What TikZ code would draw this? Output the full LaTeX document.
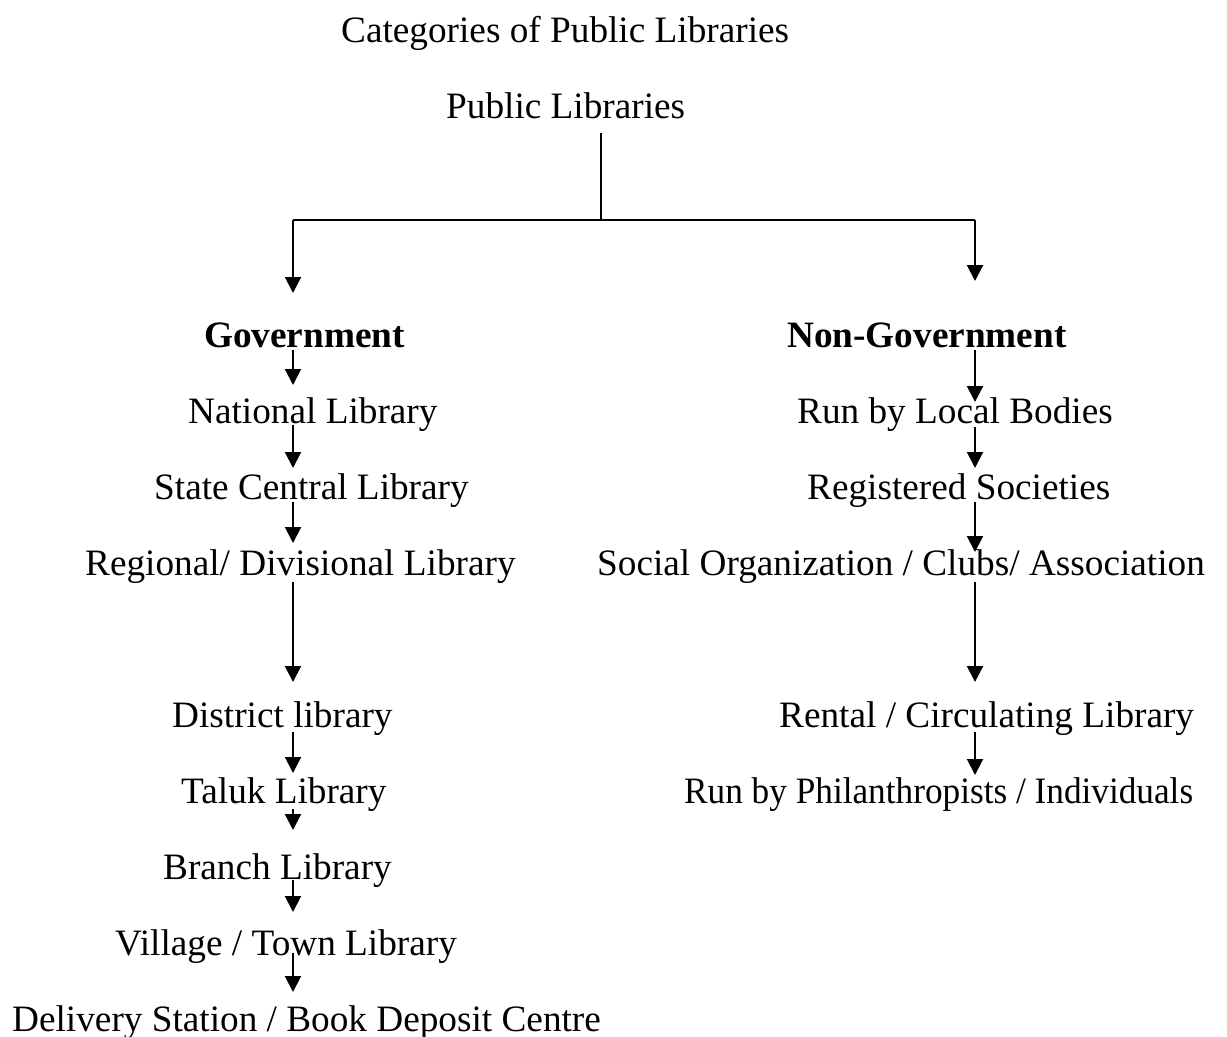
\documentclass[tikz,border=0pt]{standalone}
\usepackage{fontspec}
\setmainfont{Liberation Serif}
\usetikzlibrary{arrows.meta}
\begin{document}
\begin{tikzpicture}[x=1bp,y=-1bp,
  lbl/.style={anchor=base west,inner sep=0pt,font=\fontsize{37.25bp}{40bp}\selectfont},
  blbl/.style={lbl,font=\fontsize{37.25bp}{40bp}\selectfont\bfseries},
  arr/.style={line width=2bp,-{Triangle[width=16bp,length=16bp]}},
  ln/.style={line width=2bp}]
\useasboundingbox[fill=white] (0,0) rectangle (1227,1037);
\coordinate (L) at (293,0);
\coordinate (R) at (975,0);
\node[lbl] (title) at (341,42) {Categories of Public Libraries};
\node[lbl] (pub) at (446,118) {Public Libraries};
\node[blbl] (gov) at (204,347) {Government};
\node[lbl] (nat) at (188,423) {National Library};
\node[lbl] (state) at (154,499) {State Central Library};
\node[lbl] (reg) at (85,575) {Regional/ Divisional Library};
\node[lbl] (dist) at (172,727) {District library};
\node[lbl] (taluk) at (181,803) {Taluk Library};
\node[lbl] (branch) at (163,879) {Branch Library};
\node[lbl] (vill) at (115,955) {Village / Town Library};
\node[lbl] (deliv) at (12,1031) {Delivery Station / Book Deposit Centre};
\node[blbl] (ngov) at (787,347) {Non-Government};
\node[lbl] (local) at (797,423) {Run by Local Bodies};
\node[lbl] (soc) at (807,499) {Registered Societies};
\node[lbl] (club) at (597,575) {Social Organization / Clubs/ Association};
\node[lbl] (rent) at (779,727) {Rental / Circulating Library};
\node[lbl,xscale=0.946] (phil) at (684,803) {Run by Philanthropists / Individuals};
% top split
\coordinate (split) at (601,220);
\draw[ln] (pub.base -| split) ++(0,15) -- (split);
\draw[ln] (split) -- (split -| L);
\draw[ln] (split) -- (split -| R);
\draw[arr] (split -| L) -- ([yshift=54bp]gov.base -| L);
\draw[arr] (split -| R) -- ([yshift=66bp]ngov.base -| R);
% left chain
\draw[arr] ([yshift=-3bp]gov.base -| L) -- ([yshift=38bp]nat.base -| L);
\draw[arr] ([yshift=-2bp]nat.base -| L) -- ([yshift=31bp]state.base -| L);
\draw[arr] ([yshift=-3bp]state.base -| L) -- ([yshift=32bp]reg.base -| L);
\draw[arr] ([yshift=-7bp]reg.base -| L) -- ([yshift=45bp]dist.base -| L);
\draw[arr] ([yshift=-5bp]dist.base -| L) -- ([yshift=30bp]taluk.base -| L);
\draw[arr] ([yshift=-6bp]taluk.base -| L) -- ([yshift=49bp]branch.base -| L);
\draw[arr] ([yshift=-1bp]branch.base -| L) -- ([yshift=43bp]vill.base -| L);
\draw[arr] ([yshift=2bp]vill.base -| L) -- ([yshift=39bp]deliv.base -| L);
% right chain
\draw[arr] ([yshift=-3bp]ngov.base -| R) -- ([yshift=21bp]local.base -| R);
\draw[arr] ([yshift=-4bp]local.base -| R) -- ([yshift=31bp]soc.base -| R);
\draw[arr] ([yshift=-3bp]soc.base -| R) -- ([yshift=23bp]club.base -| R);
\draw[arr] ([yshift=-7bp]club.base -| R) -- ([yshift=45bp]rent.base -| R);
\draw[arr] ([yshift=-5bp]rent.base -| R) -- ([yshift=28bp]phil.base -| R);
\end{tikzpicture}
\end{document}
